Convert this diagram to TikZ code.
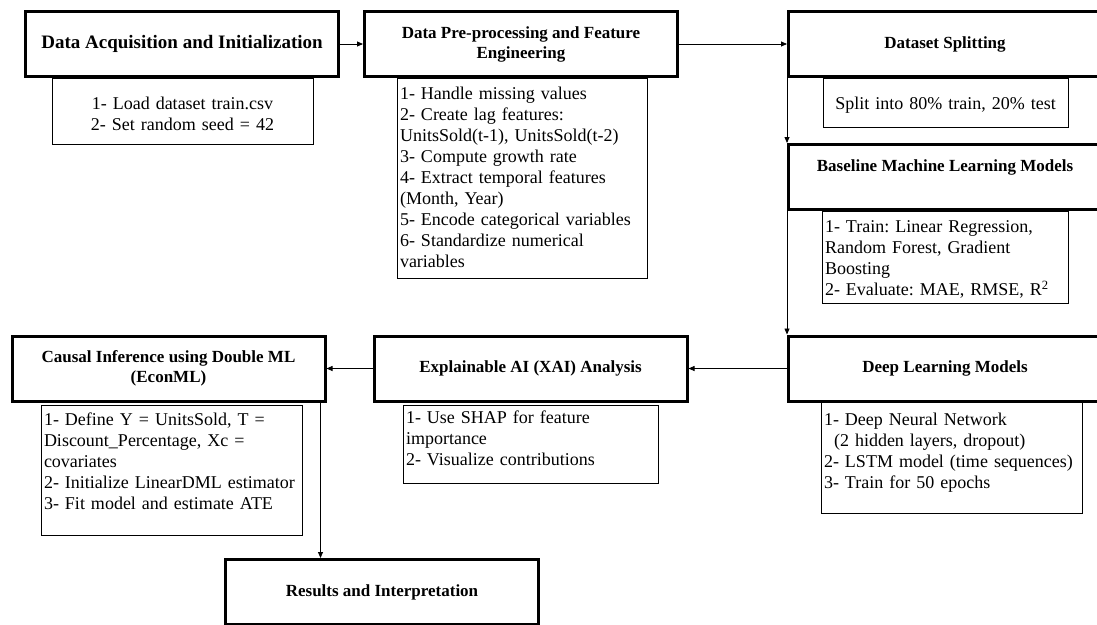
\documentclass[tikz,border=0pt]{standalone}
\usepackage{fontspec}
\setmainfont{Liberation Serif}
\frenchspacing
\usetikzlibrary{arrows.meta}
\newcommand{\stagefont}{\fontsize{17}{20}\selectfont\bfseries}
\newcommand{\detailfont}{\fontsize{18}{21}\selectfont}

\begin{document}
\begin{tikzpicture}[x=1pt, y=-1pt, >={Triangle[length=6pt, width=5pt]},
  stage/.style={draw, line width=3pt, minimum width=313pt, minimum height=65pt, align=center, font=\stagefont},
  detail/.style={draw, line width=0.8pt, anchor=north, inner xsep=3pt, inner ysep=0pt, align=left, font=\detailfont},
  flow/.style={->, line width=0.8pt}]
  \useasboundingbox (0,0) rectangle (1097,624);
  \clip (0,0) rectangle (1097,624);
  \node[stage, font=\fontsize{19}{22}\selectfont\bfseries] (acquire) at (182,44) {Data Acquisition and Initialization};
  \node[stage] (prepare) at (521,44) {Data Pre-processing and Feature\\Engineering};
  \node[stage] (split) at (945,44) {Dataset Splitting};
  \node[stage, text depth=22pt] (baseline) at (945,177) {Baseline Machine Learning Models};
  \node[stage] (deep) at (945,368.5) {Deep Learning Models};
  \node[stage] (explain) at (530.5,368.5) {Explainable AI (XAI) Analysis};
  \node[stage] (causal) at (168.5,368.5) {Causal Inference using Double ML\\(EconML)};
  \node[stage] (results) at (382,592) {Results and Interpretation};
  \node[detail, align=center, text width=255pt, text height=31pt, text depth=35pt] (acquireList) at (182.5,78) {1- Load dataset train.csv\\2- Set random seed = 42};
  \node[detail, text width=244pt, text height=21pt, text depth=179pt] (prepareList) at (522,78) {1- Handle missing values\\2- Create lag features:\\UnitsSold(t-1), UnitsSold(t-2)\\3- Compute growth rate\\4- Extract temporal features\\(Month, Year)\\5- Encode categorical variables\\6- Standardize numerical\\variables};
  \node[detail, align=center, text width=239pt, text height=31pt, text depth=18pt] (splitList) at (945.5,78) {Split into 80\% train, 20\% test};
  \node[detail, text width=240pt, text height=21pt, text depth=71pt] (baselineList) at (945,211) {1- Train: Linear Regression,\\Random Forest, Gradient\\Boosting\\2- Evaluate: MAE, RMSE, R\textsuperscript{2}};
  \node[detail, text width=255pt, text height=23pt, text depth=88pt] (deepList) at (951.5,402) {1- Deep Neural Network\\\hspace*{10pt}(2 hidden layers, dropout)\\2- LSTM model (time sequences)\\3- Train for 50 epochs};
  \node[detail, text width=249pt, text height=18pt, text depth=60pt] (explainList) at (530.5,405) {1- Use SHAP for feature\\importance\\2- Visualize contributions};
  \node[detail, text width=255pt, text height=20pt, text depth=110pt] (causalList) at (171.5,405) {1- Define Y = UnitsSold, T =\\Discount\_Percentage, Xc =\\covariates\\2- Initialize LinearDML estimator\\3- Fit model and estimate ATE};
  \draw[flow] (acquire) -- (prepare);
  \draw[flow] (prepare) -- (split);
  \draw[flow] (split.south west) -- (baseline.north west);
  \draw[flow] (baseline.south west) -- (deep.north west);
  \draw[flow] (deep) -- (explain);
  \draw[flow] (explain) -- (causal);
  \draw[flow] ([xshift=-6pt]causal.south east) -- ([xshift=-6pt]causal.south east |- results.north);
\end{tikzpicture}
\end{document}
